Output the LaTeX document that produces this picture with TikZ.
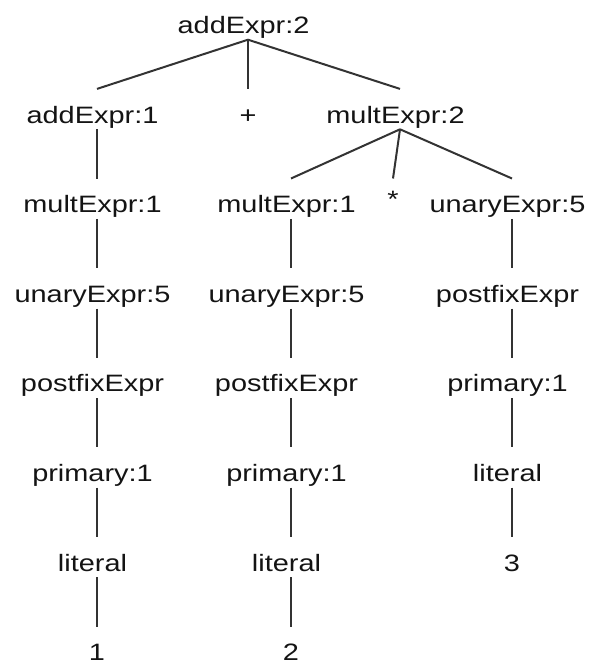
\documentclass[tikz,border=0pt]{standalone}
\usepackage{fontspec}
\setmainfont{Liberation Sans}[FakeStretch=1.22]
\newcommand\lblk[1]{#1\kern9pt}
\begin{document}
\begin{tikzpicture}[x=1pt,y=-1pt,
  tn/.style={inner sep=0pt, text height=34pt, text depth=6pt, anchor=base,
    font=\fontsize{23.7}{28}\selectfont, text=black!92},
  edge/.style={draw=black!80, line width=2pt}]
\useasboundingbox (0,0) rectangle (589,666);
% row 0
\node[tn] (top) at (248,33.5) {\lblk{addExpr:2}};
% row 1
\node[tn] (a1) at (97,123.1) {\lblk{addExpr:1}};
\node[tn] (plus) at (248,123.1) {+};
\node[tn] (m2) at (400,123.1) {\lblk{multExpr:2}};
% row 2
\node[tn] (m1a) at (97,212.7) {\lblk{multExpr:1}};
\node[tn] (m1b) at (291,212.7) {\lblk{multExpr:1}};
\node[tn] (star) at (393,212.7) {\raisebox{5pt}{*}};
\node[tn] (u5c) at (512,212.7) {\lblk{unaryExpr:5}};
% row 3
\node[tn] (u5a) at (97,302.3) {\lblk{unaryExpr:5}};
\node[tn] (u5b) at (291,302.3) {\lblk{unaryExpr:5}};
\node[tn] (pfc) at (512,302.3) {\lblk{postfixExpr}};
% row 4
\node[tn] (pfa) at (97,391.9) {\lblk{postfixExpr}};
\node[tn] (pfb) at (291,391.9) {\lblk{postfixExpr}};
\node[tn] (prc) at (512,391.9) {\lblk{primary:1}};
% row 5
\node[tn] (pra) at (97,481.5) {\lblk{primary:1}};
\node[tn] (prb) at (291,481.5) {\lblk{primary:1}};
\node[tn] (litc) at (512,481.5) {\lblk{literal}};
% row 6
\node[tn] (lita) at (97,571.1) {\lblk{literal}};
\node[tn] (litb) at (291,571.1) {\lblk{literal}};
\node[tn] (three) at (512,571.1) {3};
% row 7
\node[tn] (one) at (97,660.7) {1};
\node[tn] (two) at (291,660.7) {2};
% edges
\path[edge] (top.south) -- (a1.north);
\path[edge] (top.south) -- (plus.north);
\path[edge] (top.south) -- (m2.north);
\path[edge] (a1.south) -- (m1a.north);
\path[edge] (m2.south) -- (m1b.north);
\path[edge] (m2.south) -- (star.north);
\path[edge] (m2.south) -- (u5c.north);
\path[edge] (m1a.south) -- (u5a.north);
\path[edge] (m1b.south) -- (u5b.north);
\path[edge] (u5c.south) -- (pfc.north);
\path[edge] (u5a.south) -- (pfa.north);
\path[edge] (u5b.south) -- (pfb.north);
\path[edge] (pfc.south) -- (prc.north);
\path[edge] (pfa.south) -- (pra.north);
\path[edge] (pfb.south) -- (prb.north);
\path[edge] (prc.south) -- (litc.north);
\path[edge] (pra.south) -- (lita.north);
\path[edge] (prb.south) -- (litb.north);
\path[edge] (litc.south) -- (three.north);
\path[edge] (lita.south) -- (one.north);
\path[edge] (litb.south) -- (two.north);
\end{tikzpicture}
\end{document}
